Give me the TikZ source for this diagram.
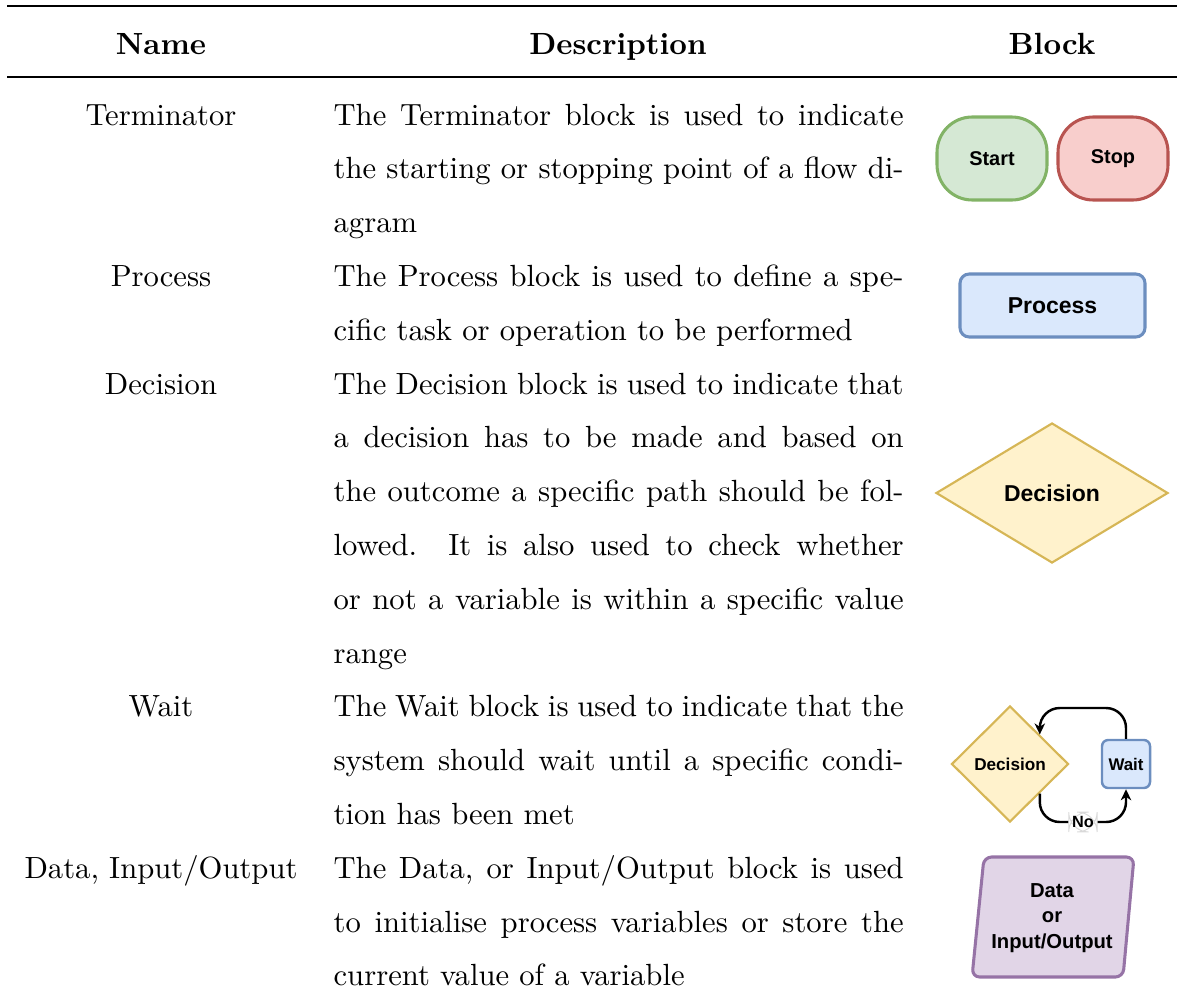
\documentclass[tikz,border=0pt]{standalone}
\usepackage{fontspec}
\newfontfamily\blockfont{Liberation Sans}
\usetikzlibrary{shapes.geometric,arrows.meta,calc}

% block colours
\definecolor{startfill}{HTML}{D5E8D4}
\definecolor{startline}{HTML}{82B366}
\definecolor{stopfill}{HTML}{F8CECC}
\definecolor{stopline}{HTML}{B85450}
\definecolor{procfill}{HTML}{DAE8FC}
\definecolor{procline}{HTML}{6C8EBF}
\definecolor{decfill}{HTML}{FFF2CC}
\definecolor{decline}{HTML}{D6B656}
\definecolor{iofill}{HTML}{E1D5E7}
\definecolor{ioline}{HTML}{9673A6}

% one drawing unit
\newcommand\pxu{0.3263pt}
\newlength\descw
\setlength\descw{186pt}
% a justified line of the description column
\newcommand\jline[1]{\makebox[\descw][s]{#1}}

\begin{document}
\begin{tikzpicture}[x=0.3263pt,y=-0.3263pt,
  head/.style={anchor=base,inner sep=0pt,font=\bfseries},
  namecell/.style={anchor=base,inner sep=0pt},
  desc/.style={anchor=base west,inner sep=0pt},
  term/.style={draw,rounded corners=11.5pt,line width=1pt,
    minimum width=110*\pxu,minimum height=83*\pxu,inner sep=0pt,
    font=\blockfont\bfseries\fontsize{6.5}{7.5}\selectfont},
  procbox/.style={draw=procline,fill=procfill,rounded corners=3pt,line width=1pt,
    minimum width=185*\pxu,minimum height=63*\pxu,inner sep=0pt,
    font=\blockfont\bfseries\fontsize{7.5}{9}\selectfont},
  decbox/.style={draw=decline,fill=decfill,shape=diamond,line width=0.7pt,inner sep=0pt},
  waitbox/.style={draw=procline,fill=procfill,rounded corners=2pt,line width=0.8pt,
    minimum width=48*\pxu,minimum height=48*\pxu,inner sep=0pt,
    font=\blockfont\bfseries\fontsize{5.5}{6.5}\selectfont},
  loop/.style={draw=black,line width=0.8pt,rounded corners=6.5pt,
    -{Stealth[length=3.6pt,width=3.4pt,inset=1.1pt]}},
  nolabel/.style={draw=gray!30,fill=white,inner sep=1.1pt,line width=0.3pt,
    minimum height=6.5pt,font=\blockfont\bfseries\fontsize{5.3}{6}\selectfont},
  iotext/.style={align=center,inner sep=0pt,
    font=\blockfont\bfseries\fontsize{6.6}{8.2}\selectfont}
]
\useasboundingbox (0,0) rectangle (1177,1007);

% rules of the table
\draw[line width=0.8pt] (7,6) -- (1177,6);
\draw[line width=0.5pt] (7,77) -- (1177,77);

% header row
\node[head] (hname) at (161,54) {Name};
\node[head] (hdesc) at (618,54) {Description};
\node[head] (hblock) at (1052,54) {Block};

% name column
\node[namecell] (nterm) at (161,125) {Terminator};
\node[namecell] (nproc) at (161,286.4) {Process};
\node[namecell] (ndec) at (161,394) {Decision};
\node[namecell] (nwait) at (161,716.8) {Wait};
\node[namecell] (ndata) at (161,878.2) {Data, Input/Output};

% description column
\node[desc] (d1) at (333,125) {\jline{The Terminator block is used to indicate}};
\node[desc] (d2) at (333,178.8) {\jline{the starting or stopping point of a flow di-}};
\node[desc] (d3) at (333,232.6) {agram};
\node[desc] (d4) at (333,286.4) {\jline{The Process block is used to define a spe-}};
\node[desc] (d5) at (333,340.2) {cific task or operation to be performed};
\node[desc] (d6) at (333,394) {\jline{The Decision block is used to indicate that}};
\node[desc] (d7) at (333,447.8) {\jline{a decision has to be made and based on}};
\node[desc] (d8) at (333,501.6) {\jline{the outcome a specific path should be fol-}};
\node[desc] (d9) at (333,555.4) {\jline{lowed.\ \ It is also used to check whether}};
\node[desc] (d10) at (333,609.2) {\jline{or not a variable is within a specific value}};
\node[desc] (d11) at (333,663) {range};
\node[desc] (d12) at (333,716.8) {\jline{The Wait block is used to indicate that the}};
\node[desc] (d13) at (333,770.6) {\jline{system should wait until a specific condi-}};
\node[desc] (d14) at (333,824.4) {tion has been met};
\node[desc] (d15) at (333,878.2) {\jline{The Data, or Input/Output block is used}};
\node[desc] (d16) at (333,932) {\jline{to initialise process variables or store the}};
\node[desc] (d17) at (333,985.8) {current value of a variable};

% terminator blocks
\node[term,draw=startline,fill=startfill] (start) at (992,158.5) {Start};
\node[term,draw=stopline,fill=stopfill] (stop) at (1113,158.5) {Stop};

% process block
\node[procbox] (proc) at (1052.5,305.5) {Process};

% decision block
\node[decbox,minimum width=232*\pxu,minimum height=140*\pxu,
  font=\blockfont\bfseries\fontsize{7.5}{9}\selectfont] (dec) at (1052,493) {Decision};

% wait loop
\node[decbox,minimum width=117*\pxu,minimum height=116*\pxu,
  font=\blockfont\bfseries\fontsize{5.6}{6.5}\selectfont] (dec2) at (1010,764) {Decision};
\node[waitbox] (wait) at (1126,764) {Wait};
\coordinate (ne) at ($(dec2.north)!0.5!(dec2.east)$);
\coordinate (se) at ($(dec2.south)!0.5!(dec2.east)$);
\coordinate (looptop) at (ne |- 0,708);
\coordinate (loopbot) at (wait.south |- 0,822);
\draw[loop] (wait.north) |- (looptop) -- (ne);
\draw[loop] (se) |- (loopbot) node[nolabel,pos=0.75] (no) {No} -- (wait.south);

% data / input-output block
\draw[draw=ioline,fill=iofill,line width=1pt,rounded corners=2.5pt]
  (984,857) -- (1134,857) -- (1123,977) -- (972,977) -- cycle;
\node[iotext] (io) at (1052,918) {Data\\or\\Input/Output};
\end{tikzpicture}
\end{document}
